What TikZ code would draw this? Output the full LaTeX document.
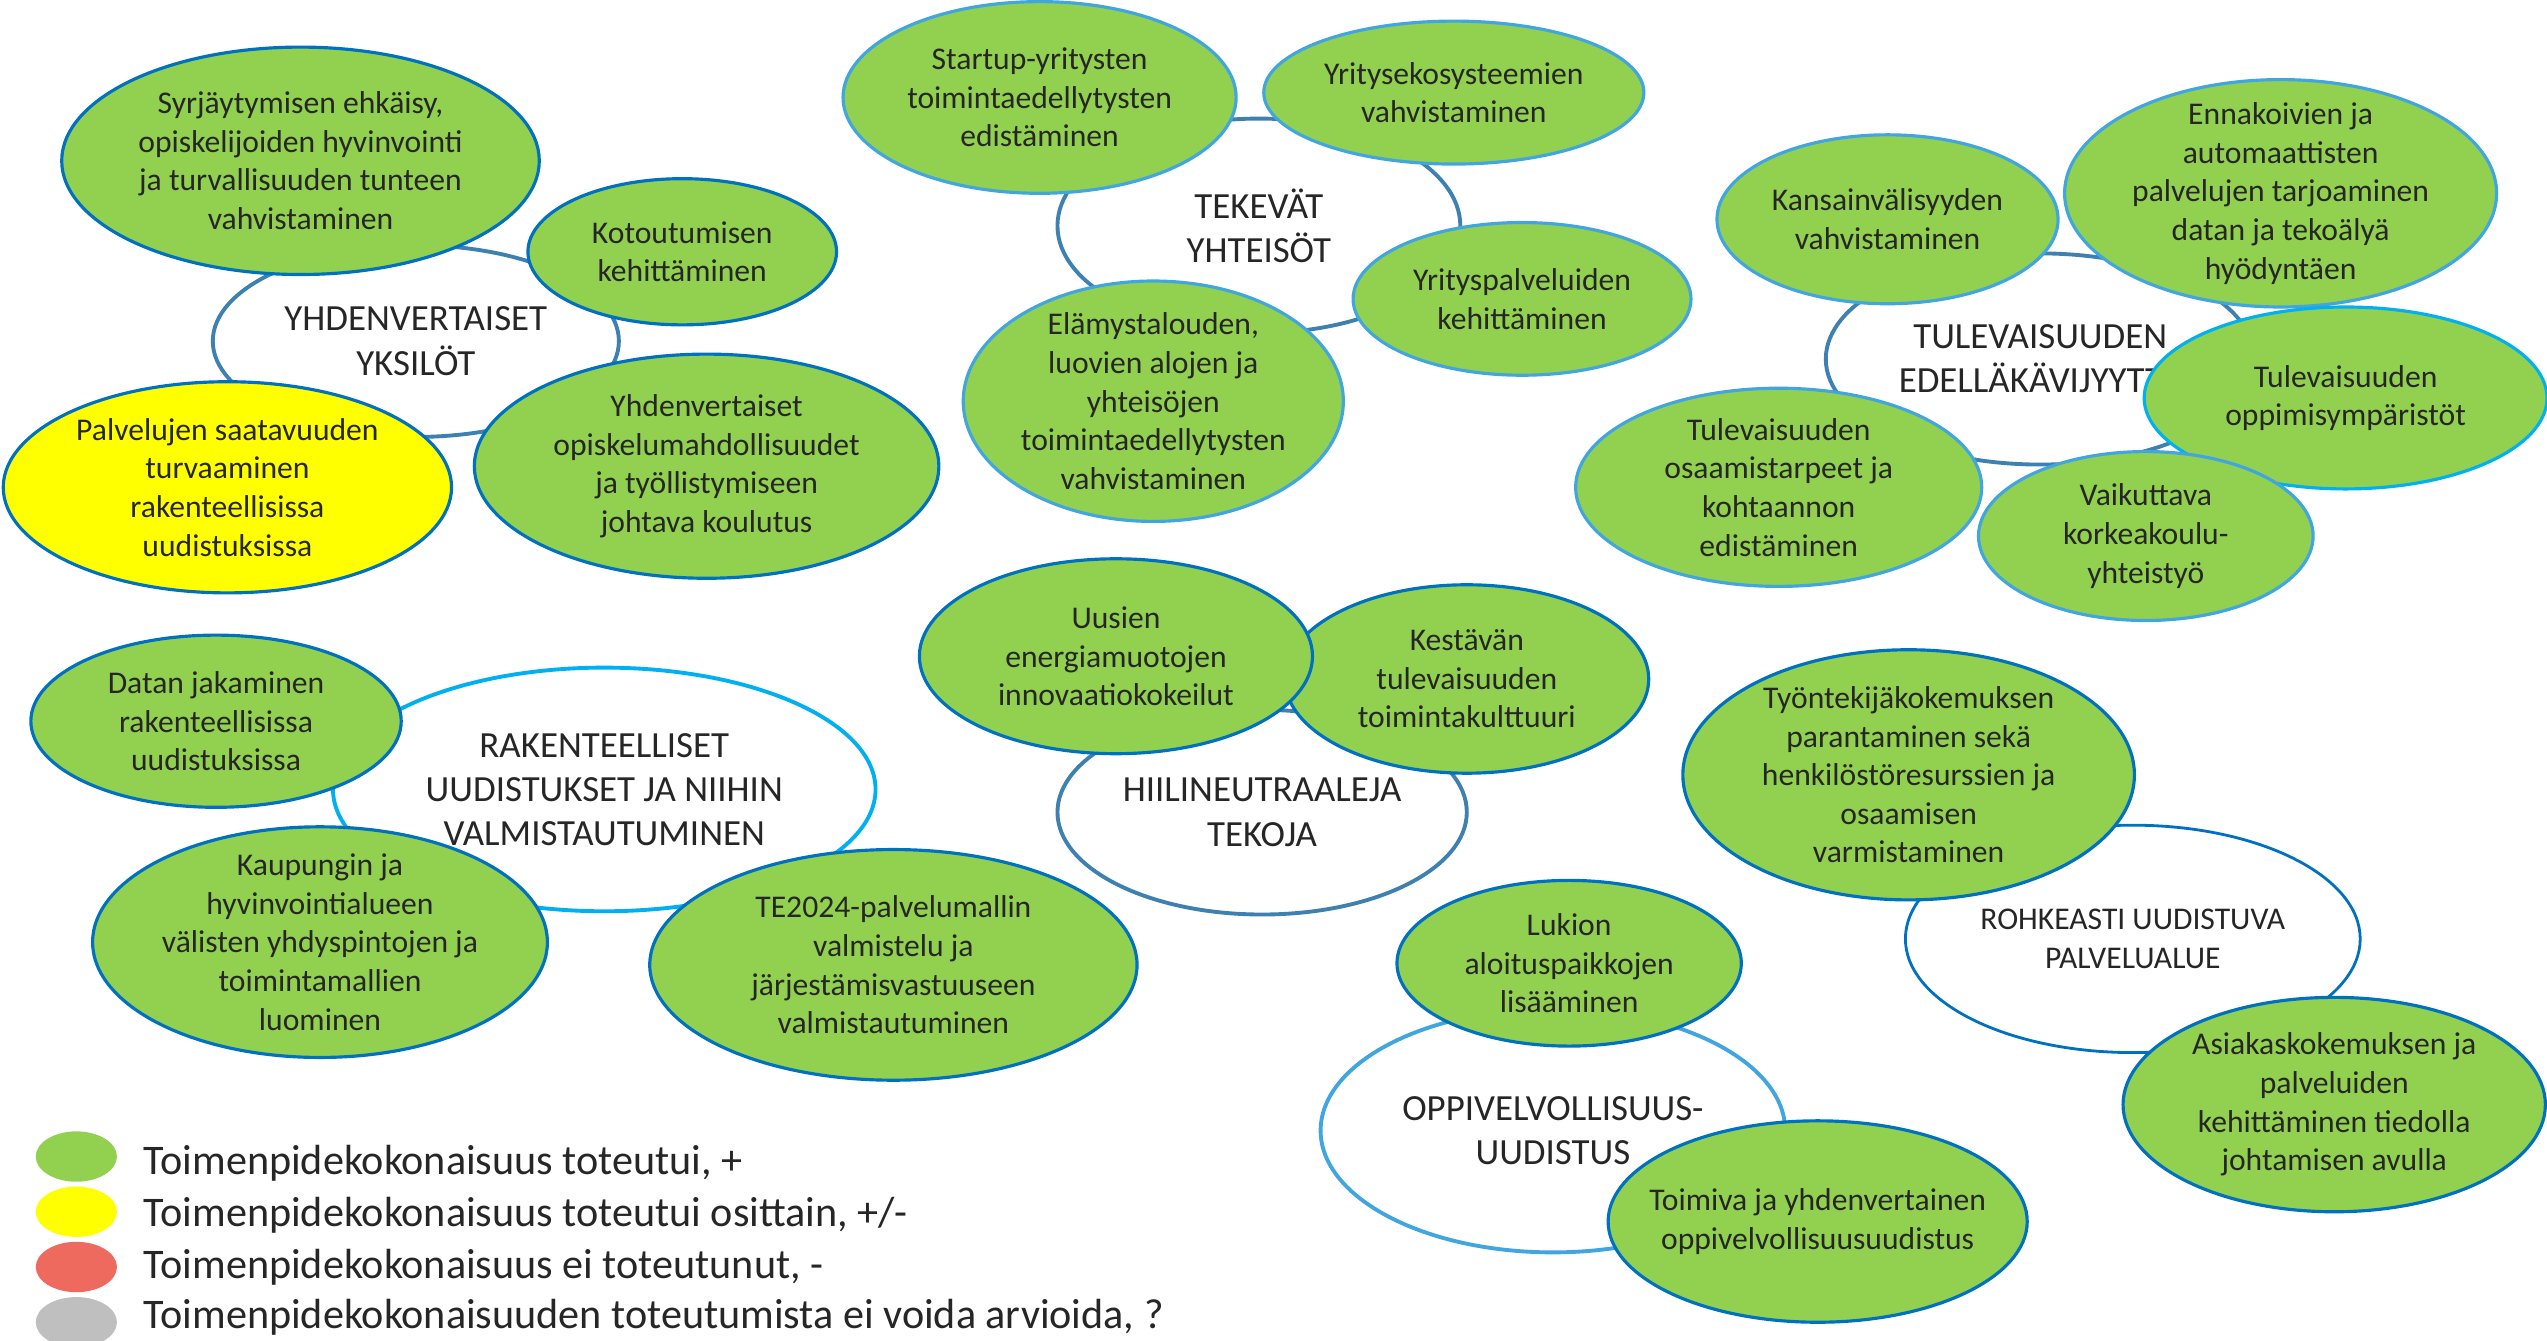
\documentclass[tikz,border=0pt]{standalone}
\usepackage{fontspec}
\setmainfont{Carlito}
\usetikzlibrary{shapes.geometric}
\definecolor{vihrea}{HTML}{92D050}
\definecolor{keltainen}{HTML}{FFFF00}
\definecolor{punainen}{HTML}{EE6A5F}
\definecolor{harmaa}{HTML}{BFBFBF}
\definecolor{tummasin}{HTML}{0070C0}
\definecolor{vaaleasin}{HTML}{41A5E0}
\definecolor{syaani}{HTML}{00B0F0}
\definecolor{teras}{HTML}{3E80B0}
\definecolor{teksti}{HTML}{262626}

\begin{document}
\begin{tikzpicture}[x=0.016244cm,y=-0.016244cm,
  keskus/.style n args={3}{ellipse,inner sep=-5mm,minimum width=2*#1*0.016244cm,
    minimum height=2*#2*0.016244cm,draw=#3,line width=1.1pt,fill=white,text=teksti,
    align=center,font=\fontsize{10.5}{12.6}\selectfont},
  kupla/.style n args={3}{ellipse,inner sep=-5mm,minimum width=2*#1*0.016244cm,
    minimum height=2*#2*0.016244cm,draw=#3,line width=0.9pt,fill=vihrea,text=teksti,
    align=center,font=\fontsize{9}{11}\selectfont},
  selite/.style={ellipse,inner sep=0pt,minimum width=50*0.016244cm,minimum height=31*0.016244cm},
  selteksti/.style={anchor=base west,inner sep=0pt,text=teksti,font=\fontsize{12}{14}\selectfont}]

\useasboundingbox (0,0) rectangle (1568,825);

\node[keskus={125}{59}{teras}] (Y) at (256,210) {YHDENVERTAISET\\YKSILÖT};
\node[keskus={124}{66}{teras}] (T) at (775,139) {TEKEVÄT\\YHTEISÖT};
\node[keskus={132}{65}{teras}] (E) at (1256,221) {TULEVAISUUDEN\\EDELLÄKÄVIJYYTTÄ};
\node[keskus={167}{75}{syaani}] (R) at (372,486) {RAKENTEELLISET\\UUDISTUKSET JA NIIHIN\\VALMISTAUTUMINEN};
\node[keskus={126}{63}{teras}] (H) at (777,500) {HIILINEUTRAALEJA\\TEKOJA};
\node[keskus={143}{75}{vaaleasin}] (O) at (956,696) {OPPIVELVOLLISUUS-\\UUDISTUS};
\node[keskus={140}{70}{tummasin},line width=0.8pt,font=\fontsize{9}{11}\selectfont] (P) at (1313,578) {ROHKEASTI UUDISTUVA\\PALVELUALUE};

\node[kupla={147}{70}{tummasin}] (Y1) at (185,99) {Syrjäytymisen ehkäisy,\\opiskelijoiden hyvinvointi\\ja turvallisuuden tunteen\\vahvistaminen};
\node[kupla={95}{45}{tummasin}] (Y2) at (420,155) {Kotoutumisen\\kehittäminen};
\node[kupla={138}{65}{tummasin},fill=keltainen] (Y3) at (140,300) {Palvelujen saatavuuden\\turvaaminen\\rakenteellisissa\\uudistuksissa};
\node[kupla={143}{69}{tummasin}] (Y4) at (435,287) {Yhdenvertaiset\\opiskelumahdollisuudet\\ja työllistymiseen\\johtava koulutus};

\node[kupla={121}{59}{vaaleasin}] (T1) at (640,60) {Startup-yritysten\\toimintaedellytysten\\edistäminen};
\node[kupla={117}{44}{vaaleasin}] (T2) at (895,57) {Yritysekosysteemien\\vahvistaminen};
\node[kupla={104}{47}{vaaleasin}] (T3) at (937,184) {Yrityspalveluiden\\kehittäminen};
\node[kupla={117}{74}{vaaleasin}] (T4) at (710,247) {Elämystalouden,\\luovien alojen ja\\yhteisöjen\\toimintaedellytysten\\vahvistaminen};

\node[kupla={105}{52}{vaaleasin}] (E1) at (1162,135) {Kansainvälisyyden\\vahvistaminen};
\node[kupla={133}{70}{vaaleasin}] (E2) at (1404,119) {Ennakoivien ja\\automaattisten\\palvelujen tarjoaminen\\datan ja tekoälyä\\hyödyntäen};
\node[kupla={125}{61}{vaaleasin}] (E3) at (1095,300) {Tulevaisuuden\\osaamistarpeet ja\\kohtaannon\\edistäminen};
\node[kupla={124}{56}{syaani}] (E4) at (1444,245) {Tulevaisuuden\\oppimisympäristöt};
\node[kupla={103}{52}{vaaleasin}] (E5) at (1321,330) {Vaikuttava\\korkeakoulu-\\yhteistyö};

\node[kupla={114}{53}{tummasin}] (R1) at (133,444) {Datan jakaminen\\rakenteellisissa\\uudistuksissa};
\node[kupla={140}{71}{tummasin}] (R2) at (197,580) {Kaupungin ja\\hyvinvointialueen\\välisten yhdyspintojen ja\\toimintamallien\\luominen};
\node[kupla={150}{71}{tummasin}] (R3) at (550,594) {TE2024-palvelumallin\\valmistelu ja\\järjestämisvastuuseen\\valmistautuminen};

\node[kupla={112}{58}{tummasin}] (H2) at (903,418) {Kestävän\\tulevaisuuden\\toimintakulttuuri};
\node[kupla={121}{60}{tummasin}] (H1) at (687,404) {Uusien\\energiamuotojen\\innovaatiokokeilut};

\node[kupla={106}{51}{tummasin}] (O1) at (966,593) {Lukion\\aloituspaikkojen\\lisääminen};
\node[kupla={129}{62}{tummasin}] (O2) at (1119,752) {Toimiva ja yhdenvertainen\\oppivelvollisuusuudistus};

\node[kupla={139}{77}{tummasin}] (P1) at (1175,477) {Työntekijäkokemuksen\\parantaminen sekä\\henkilöstöresurssien ja\\osaamisen\\varmistaminen};
\node[kupla={130}{66}{tummasin}] (P2) at (1437,680) {Asiakaskokemuksen ja\\palveluiden\\kehittäminen tiedolla\\johtamisen avulla};

\node[selite,fill=vihrea] (L1) at (47,712) {};
\node[selite,fill=keltainen] (L2) at (47,746) {};
\node[selite,fill=punainen] (L3) at (47,780) {};
\node[selite,fill=harmaa] (L4) at (47,814) {};
\node[selteksti] (S1) at (88,723) {Toimenpidekokonaisuus toteutui, +};
\node[selteksti] (S2) at (88,755) {Toimenpidekokonaisuus toteutui osittain, +/-};
\node[selteksti] (S3) at (88,787) {Toimenpidekokonaisuus ei toteutunut, -};
\node[selteksti] (S4) at (88,818) {Toimenpidekokonaisuuden toteutumista ei voida arvioida, ?};
\end{tikzpicture}
\end{document}
